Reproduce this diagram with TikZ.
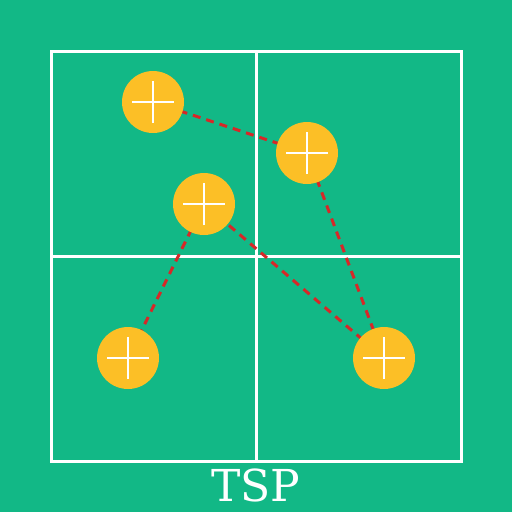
\documentclass[tikz,border=0pt]{standalone}
\usepackage{fontspec}
\setmainfont{DejaVu Serif}
\definecolor{bg}{HTML}{12B886}
\definecolor{city}{HTML}{FCBF26}
\definecolor{route}{HTML}{D62828}
\begin{document}
\begin{tikzpicture}[x=1pt,y=-1pt,
  citynode/.style={circle,fill=city,minimum size=62pt,inner sep=0pt},
  gridline/.style={white,line width=3pt},
  routeline/.style={route,line width=3pt,dash pattern=on 8pt off 6pt},
  crossline/.style={white,line width=2.2pt}]
\fill[bg] (0,0) rectangle (512,512);
\useasboundingbox (0,0) rectangle (512,512);
\draw[gridline] (51,51) rectangle (461,461);
\draw[gridline] (256,51) -- (256,461);
\draw[gridline] (51,256) -- (461,256);
\coordinate (c1) at (153,102);
\coordinate (c2) at (307,153);
\coordinate (c3) at (204,204);
\coordinate (c4) at (128,358);
\coordinate (c5) at (384,358);
\draw[routeline] (c1) -- (c2);
\draw[routeline] (c2) -- (c5);
\draw[routeline] (c5) -- (c3);
\draw[routeline] (c3) -- (c4);
\foreach \c in {c1,c2,c3,c4,c5}{
  \node[citynode] (n\c) at (\c) {};
  \draw[crossline] ([xshift=-21pt]\c) -- ([xshift=21pt]\c);
  \draw[crossline] ([yshift=-21pt]\c) -- ([yshift=21pt]\c);
}
\node[white,font=\fontsize{44}{44}\selectfont,anchor=base] (title) at (256,501) {TSP};
\end{tikzpicture}
\end{document}
